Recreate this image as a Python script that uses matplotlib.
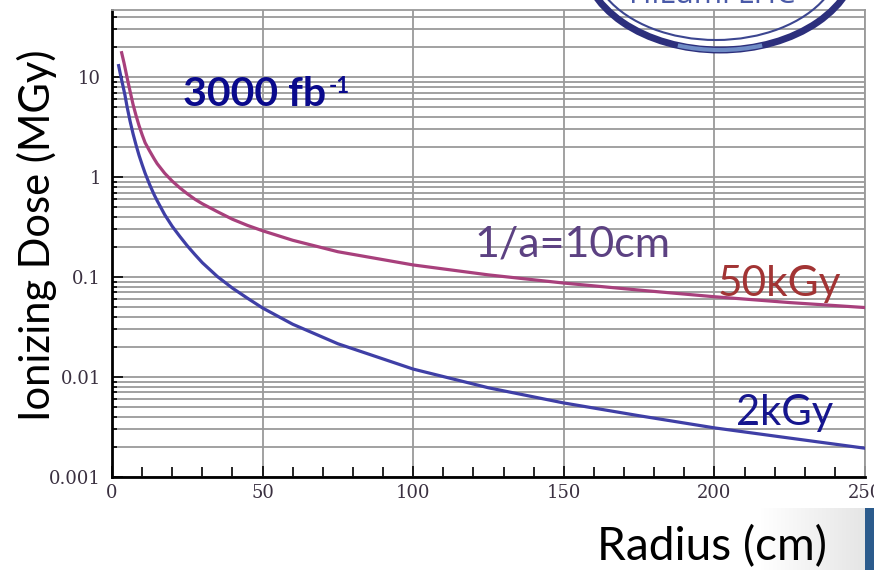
import numpy as np
import matplotlib.pyplot as plt
from matplotlib.patches import Arc
from matplotlib.ticker import FixedLocator, LogLocator, NullFormatter

# dose vs radius for 3000 fb^-1
radius_hi = [3.2, 4, 5, 6, 7, 8, 9, 10, 11, 12.5, 14, 15, 17.5, 20, 22.5, 25,
             27.5, 30, 35, 40, 45, 50, 60, 75, 100, 125, 150, 175, 200, 225,
             250]
dose_hi = [17.5, 13.8, 9.9, 7.2, 5.3, 4.1, 3.25, 2.65, 2.2, 1.82, 1.52, 1.36,
           1.09, 0.91, 0.78, 0.68, 0.6, 0.54, 0.45, 0.378, 0.328, 0.29, 0.233,
           0.179, 0.132, 0.105, 0.087, 0.074, 0.0635, 0.0555, 0.0495]

radius_lo = [2.2, 2.8, 3.5, 4.3, 5, 6, 7, 8, 9, 10, 11, 12.5, 14, 15, 17.5,
             20, 22.5, 25, 27.5, 30, 35, 40, 45, 50, 60, 75, 100, 125, 150,
             175, 200, 225, 250]
dose_lo = [13.0, 10.6, 8.5, 6.6, 5.05, 3.62, 2.7, 2.08, 1.64, 1.33, 1.09,
           0.84, 0.665, 0.579, 0.42, 0.321, 0.255, 0.205, 0.168, 0.139, 0.101,
           0.0774, 0.0613, 0.049, 0.0337, 0.0215, 0.012, 0.0078, 0.0055,
           0.0041, 0.0031, 0.00245, 0.00194]

xticks = [0, 50, 100, 150, 200, 250]
yticks = [0.001, 0.01, 0.1, 1, 10]
ytick_labels = ['0.001', '0.01', '0.1', '1', '10']

W, H = 874, 570
fig = plt.figure(figsize=(W / 100, H / 100), dpi=100)
ax = fig.add_axes([112 / W, 1 - 477 / H, (865 - 112) / W, (477 - 10) / H])

grid_c = '#9a9a9a'
ax.plot(radius_hi, dose_hi, color='#a8407c', lw=2.3, zorder=3)
ax.plot(radius_lo, dose_lo, color='#3f3fa6', lw=2.3, zorder=3)

ax.set_yscale('log')
ax.set_xlim(0, 250)
ax.set_ylim(0.001, 46.8)

ax.xaxis.set_major_locator(FixedLocator(xticks))
ax.xaxis.set_minor_locator(FixedLocator(np.arange(0, 251, 10)))
ax.yaxis.set_major_locator(FixedLocator(yticks))
ax.yaxis.set_minor_locator(LogLocator(base=10, subs=np.arange(2, 10)))
ax.yaxis.set_minor_formatter(NullFormatter())
ax.set_yticklabels(ytick_labels)

ax.grid(True, axis='x', which='major', color=grid_c, lw=1.3)
ax.grid(True, axis='y', which='both', color=grid_c, lw=1.3)
ax.set_axisbelow(True)

ax.tick_params(which='both', direction='in', color='black', width=1.2,
               labelsize=13, labelcolor='#3a3040')
ax.tick_params(which='major', length=8)
ax.tick_params(axis='x', which='minor', length=7)
ax.tick_params(axis='y', which='minor', length=3.5)
ax.tick_params(axis='x', pad=5)
ax.tick_params(axis='y', pad=8)
for lab in ax.get_xticklabels() + ax.get_yticklabels():
    lab.set_family('DejaVu Serif')

for side in ('left', 'bottom'):
    ax.spines[side].set_linewidth(2)
    ax.spines[side].set_color('black')
for side in ('top', 'right'):
    ax.spines[side].set_linewidth(1.3)
    ax.spines[side].set_color(grid_c)

sans = 'Lato'
ax.text(23.6, 5.13, '3000 fb', family=sans, fontsize=29.5, fontweight='bold',
        color='#0a0a8c', va='baseline', zorder=4)
ax.text(72, 6.9, '-1', family=sans, fontsize=16,
        fontweight='bold', color='#0a0a8c', va='baseline', zorder=4)
ax.text(120.5, 0.162, '1/a=10cm', family=sans, fontsize=31,
        color='#5c4182', va='baseline', zorder=4)
ax.text(201, 0.065, '50kGy', family=sans, fontsize=30.5,
        color='#a23434', va='baseline', zorder=4)
ax.text(207.3, 0.0033, '2kGy', family=sans, fontsize=30,
        color='#16168e', va='baseline', zorder=4)

fig.text(37 / W, 1 - 235 / H, 'Ionizing Dose (MGy)', family=sans, fontsize=30,
         rotation=90, ha='center', va='center')
fig.text(712 / W, 1 - 547 / H, 'Radius (cm)', family=sans, fontsize=33,
         ha='center', va='center')

# logo swoosh in the top right corner
overlay = fig.add_axes([0, 0, 1, 1], facecolor='none')
overlay.axis('off')
overlay.add_patch(Arc((720, -45), 276, 190, theta1=0, theta2=180,
                      color='#2c2f7c', lw=5))
overlay.add_patch(Arc((720, -45), 276, 190, theta1=65, theta2=115,
                      color='#6f8cc6', lw=3))
overlay.add_patch(Arc((716, -42), 250, 164, theta1=20, theta2=160,
                      color='#3c4690', lw=1.5))
overlay.text(712, 3, 'HiLumi LHC', family='Open Sans', fontsize=22,
             color='#4a5aa8', ha='center', va='baseline')

# side bar at the bottom right
grad = np.linspace(1, 0.9, 100)[None, :]
overlay.imshow(np.dstack([grad, grad, grad]), extent=(760, 865, 570, 508),
               aspect='auto', zorder=0)
overlay.fill_between([865, 874], 508, 570, color='#2b5b8c', lw=0)
overlay.set_xlim(0, W)
overlay.set_ylim(H, 0)

fig.savefig('out.png', dpi=100)
